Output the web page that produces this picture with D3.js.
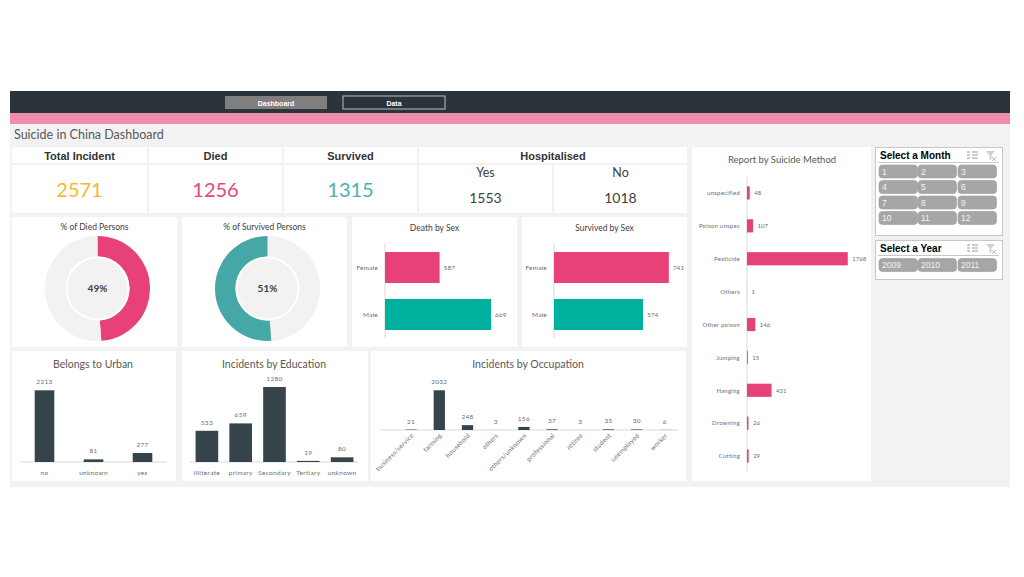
<!DOCTYPE html>
<html><head><meta charset="utf-8">
<script src="https://cdn.jsdelivr.net/npm/d3@7"></script>
<style>body{margin:0;background:#fff}svg{display:block}</style>
</head><body><svg id="c" width="1024" height="577"></svg>
<script>
// ---------- DATA ----------
const navButtons = ["Dashboard", "Data"];
const dashboardTitle = "Suicide in China Dashboard";
const kpiLabels = ["Total Incident", "Died", "Survived"];
const kpiValues = [2571, 1256, 1315];
const hospTitle = "Hospitalised";
const hospLabels = ["Yes", "No"];
const hospValues = [1553, 1018];
const outcomeLabels = ["Died", "Survived"];
const outcomeValues = [1256, 1315];
const sexCategories = ["Female", "Male"];
const deathBySex = [587, 669];
const survivedBySex = [741, 574];
const urbanCategories = ["no", "unknown", "yes"];
const urbanValues = [2213, 81, 277];
const eduCategories = ["illiterate", "primary", "Secondary", "Tertiary", "unknown"];
const eduValues = [533, 659, 1280, 19, 80];
const occCategories = ["business/service", "farming", "household", "others", "others/unknown", "professional", "retiree", "student", "unemployed", "worker"];
const occValues = [21, 2032, 248, 3, 156, 37, 3, 35, 30, 6];
const methodCategories = ["unspecified", "Poison unspec", "Pesticide", "Others", "Other poison", "Jumping", "Hanging", "Drowning", "Cutting"];
const methodValues = [48, 107, 1768, 1, 146, 15, 431, 26, 29];
const months = ["1","2","3","4","5","6","7","8","9","10","11","12"];
const years = ["2009", "2010", "2011"];

// ---------- STYLE ----------
const PINK = "#e8417a", TEAL = "#00b09f", TEAL2 = "#45a8a6", DARK = "#36454b";
const GREY_TXT = "#595959", LBL = "#6e6e6e", BG = "#f2f2f2";
const FONT = "Lato, 'Open Sans', sans-serif";
const BOLD = "'Liberation Sans', Arial, sans-serif";

const svg = d3.select("#c");
svg.append("rect").attr("x",0).attr("y",0).attr("width",1024).attr("height",577).attr("fill","#fff");

// background & header
svg.append("rect").attr("x",10).attr("y",124).attr("width",1000).attr("height",363).attr("fill",BG);
svg.append("rect").attr("x",10).attr("y",91).attr("width",1000).attr("height",22).attr("fill","#2b333b");
svg.append("rect").attr("x",10).attr("y",113).attr("width",1000).attr("height",11).attr("fill","#f08cae");

const navX = d3.scaleOrdinal().domain(navButtons).range([225, 343]);
navButtons.forEach((b,i)=>{
  svg.append("rect").attr("x",navX(b)).attr("y",96).attr("width",102).attr("height",13)
    .attr("fill", i===0 ? "#7f7f7f" : "#2b333b").attr("stroke", i===0 ? "none" : "#c0c0c0").attr("stroke-width",1);
  svg.append("text").attr("x",navX(b)+51).attr("y",105.5).attr("text-anchor","middle")
    .attr("font-family",BOLD).attr("font-weight","bold").attr("font-size",7).attr("fill","#fff").text(b);
});

svg.append("text").attr("x",14).attr("y",139).attr("font-family",FONT).attr("font-size",12.5)
  .attr("fill",GREY_TXT).text(dashboardTitle);

function card(x,y,w,h){ svg.append("rect").attr("x",x).attr("y",y).attr("width",w).attr("height",h).attr("fill","#fff"); }

// ---------- KPI ----------
const kpiX = [12, 149, 284];
const kpiW = [135, 133, 133];
const kpiColors = ["#f7b82a", "#e8467c", "#4ab2b0"];
kpiLabels.forEach((l,i)=>{
  card(kpiX[i],147,kpiW[i],16);
  card(kpiX[i],165,kpiW[i],48);
  svg.append("text").attr("x",kpiX[i]+kpiW[i]/2).attr("y",159.5).attr("text-anchor","middle")
    .attr("font-family",BOLD).attr("font-weight","bold").attr("font-size",11).attr("fill","#333").text(l);
  svg.append("text").attr("x",kpiX[i]+kpiW[i]/2).attr("y",197).attr("text-anchor","middle")
    .attr("font-family",FONT).attr("font-size",20).attr("fill",kpiColors[i]).text(kpiValues[i]);
});
card(419,147,268,16);
svg.append("text").attr("x",553).attr("y",159.5).attr("text-anchor","middle")
  .attr("font-family",BOLD).attr("font-weight","bold").attr("font-size",11).attr("fill","#333").text(hospTitle);
const hx = [419, 554], hw = [133, 133];
hospLabels.forEach((l,i)=>{
  card(hx[i],165,hw[i],48);
  svg.append("text").attr("x",hx[i]+hw[i]/2).attr("y",176.5).attr("text-anchor","middle")
    .attr("font-family",FONT).attr("font-size",12.5).attr("fill","#404040").text(l);
  svg.append("text").attr("x",hx[i]+hw[i]/2).attr("y",203).attr("text-anchor","middle")
    .attr("font-family",FONT).attr("font-size",14).attr("fill","#404040").text(hospValues[i]);
});

// ---------- Donuts ----------
const total = d3.sum(outcomeValues);
const pie = d3.pie().sort(null)(outcomeValues);
const arc = d3.arc().innerRadius(32).outerRadius(52.5);
function donut(x,w,cx,title,idx,color){
  card(x,217,w,130);
  svg.append("text").attr("x",x+w/2).attr("y",230).attr("text-anchor","middle")
    .attr("font-family",FONT).attr("font-size",8.5).attr("fill","#404040").text(title);
  const g = svg.append("g").attr("transform",`translate(${cx},288.5)`);
  g.append("circle").attr("r",52.5).attr("fill",BG);
  g.selectAll("path").data(pie).join("path").attr("d",arc)
    .attr("fill",(d,i)=> i===idx ? color : BG);
  g.append("circle").attr("r",31).attr("fill","none").attr("stroke","#fff").attr("stroke-width",2);
  g.append("text").attr("y",3.5).attr("text-anchor","middle").attr("font-family",FONT)
    .attr("font-weight","bold").attr("font-size",10).attr("fill","#404040")
    .text(Math.round(outcomeValues[idx]/total*100)+"%");
}
donut(12,165,97.5,"% of Died Persons",0,PINK);
donut(182,165,267.5,"% of Survived Persons",1,TEAL2);

// ---------- Sex bars ----------
function sexChart(x,w,title,values,domain,x0,x1){
  card(x,217,w,130);
  svg.append("text").attr("x",x+w/2).attr("y",231).attr("text-anchor","middle")
    .attr("font-family",FONT).attr("font-size",8.5).attr("fill","#404040").text(title);
  const xs = d3.scaleLinear().domain(domain).range([x0,x1]);
  const ys = d3.scaleBand().domain(sexCategories).range([244,338]).paddingInner(0.34).paddingOuter(0.17);
  svg.append("line").attr("x1",x0).attr("x2",x0).attr("y1",244).attr("y2",338).attr("stroke","#d9d9d9");
  sexCategories.forEach((c,i)=>{
    svg.append("rect").attr("x",x0).attr("y",ys(c)).attr("width",xs(values[i])-x0).attr("height",ys.bandwidth())
      .attr("fill", i===0 ? PINK : TEAL);
    svg.append("text").attr("x",xs(values[i])+4).attr("y",ys(c)+ys.bandwidth()/2+2.5)
      .attr("font-family",FONT).attr("font-size",6.5).attr("fill",LBL).text(values[i]);
    svg.append("text").attr("x",x0-7).attr("y",ys(c)+ys.bandwidth()/2+2.5).attr("text-anchor","end")
      .attr("font-family",FONT).attr("font-size",6.5).attr("fill",LBL).attr("letter-spacing",0.2).text(c);
  });
}
sexChart(352,165,"Death by Sex",deathBySex,[500,680],385,498);
sexChart(522,165,"Survived by Sex",survivedBySex,[0,800],554,678);

// ---------- Column charts ----------
function colChart(opt){
  card(opt.x,351,opt.w,130);
  svg.append("text").attr("x",opt.tx).attr("y",367.5).attr("text-anchor","middle")
    .attr("font-family",FONT).attr("font-size",10.5).attr("fill",GREY_TXT).text(opt.title);
  const xs = d3.scaleBand().domain(opt.cats).range(opt.range).paddingInner(opt.pi).paddingOuter(opt.po);
  const ys = d3.scaleLinear().domain([0,opt.max]).range([opt.base,opt.top]);
  svg.append("line").attr("x1",opt.lx0).attr("x2",opt.lx1).attr("y1",opt.base).attr("y2",opt.base).attr("stroke","#d9d9d9");
  opt.cats.forEach((c,i)=>{
    svg.append("rect").attr("x",xs(c)).attr("y",ys(opt.vals[i])).attr("width",xs.bandwidth())
      .attr("height",opt.base-ys(opt.vals[i])).attr("fill",DARK);
    svg.append("text").attr("x",xs(c)+xs.bandwidth()/2).attr("y",ys(opt.vals[i])-6).attr("text-anchor","middle")
      .attr("font-family",FONT).attr("font-size",6.5).attr("fill",LBL).attr("letter-spacing",0.3).text(opt.vals[i]);
    if(opt.rotate){
      svg.append("text").attr("transform",`translate(${xs(c)+xs.bandwidth()/2+3},${opt.base+6}) rotate(-45)`)
        .attr("text-anchor","end").attr("font-family",FONT).attr("font-size",6.5).attr("fill",LBL).attr("letter-spacing",0.2).text(c);
    } else {
      svg.append("text").attr("x",xs(c)+xs.bandwidth()/2).attr("y",opt.base+12.5).attr("text-anchor","middle")
        .attr("font-family",FONT).attr("font-size",6.5).attr("fill",LBL).attr("letter-spacing",0.3).text(c);
    }
  });
}
colChart({x:12,w:164,tx:93,title:"Belongs to Urban",cats:urbanCategories,vals:urbanValues,range:[20,167],pi:0.6,po:0.3,max:2500,base:462,top:381,lx0:20,lx1:167});
colChart({x:182,w:186,tx:274,title:"Incidents by Education",cats:eduCategories,vals:eduValues,range:[190,359],pi:0.33,po:0.165,max:1400,base:462,top:380,lx0:190,lx1:358});
colChart({x:371,w:315,tx:528,title:"Incidents by Occupation",cats:occCategories,vals:occValues,range:[397,679],pi:0.6,po:0.3,max:2200,base:430,top:387,lx0:380,lx1:678,rotate:true});

// ---------- Suicide method ----------
card(692,147,179,334);
svg.append("text").attr("x",782).attr("y",163).attr("text-anchor","middle")
  .attr("font-family",FONT).attr("font-size",9.5).attr("fill",GREY_TXT).text("Report by Suicide Method");
{
  const xs = d3.scaleLinear().domain([0,2000]).range([747,861]);
  const ys = d3.scaleBand().domain(methodCategories).range([176.5,472.5]).paddingInner(0.6).paddingOuter(0.3);
  svg.append("line").attr("x1",747).attr("x2",747).attr("y1",177).attr("y2",472).attr("stroke","#d9d9d9");
  methodCategories.forEach((c,i)=>{
    const cy = ys(c)+ys.bandwidth()/2;
    svg.append("rect").attr("x",747).attr("y",ys(c)).attr("width",xs(methodValues[i])-747).attr("height",ys.bandwidth()).attr("fill",PINK);
    svg.append("text").attr("x",xs(methodValues[i])+4.5).attr("y",cy+2.3)
      .attr("font-family",FONT).attr("font-size",6).attr("fill",LBL).text(methodValues[i]);
    svg.append("text").attr("x",740).attr("y",cy+2.3).attr("text-anchor","end")
      .attr("font-family",FONT).attr("font-size",6).attr("fill",LBL).attr("letter-spacing",0.25).text(c);
  });
}

// ---------- Slicers ----------
function slicer(y,h,title,items,rowsY){
  svg.append("rect").attr("x",875.5).attr("y",y+0.5).attr("width",127).attr("height",h).attr("fill","#fff")
    .attr("stroke","#c8c8c8").attr("stroke-width",1);
  svg.append("text").attr("x",880).attr("y",y+11.5).attr("font-family",BOLD).attr("font-weight","bold")
    .attr("font-size",10).attr("fill","#000").text(title);
  svg.append("line").attr("x1",878).attr("x2",999).attr("y1",y+15.5).attr("y2",y+15.5).attr("stroke","#c8c8c8");
  const ix = 967, iy = y+5;
  for(let k=0;k<3;k++){
    svg.append("line").attr("x1",ix).attr("x2",ix+3).attr("y1",iy+k*3).attr("y2",iy+k*3).attr("stroke","#9a9a9a");
    svg.append("line").attr("x1",ix+5).attr("x2",ix+11).attr("y1",iy+k*3).attr("y2",iy+k*3).attr("stroke","#9a9a9a");
  }
  svg.append("path").attr("d",`M${986},${iy-1} h9 l-3.5,4 v4 l-2,1 v-5 z`).attr("fill","#d0d0d0");
  svg.append("path").attr("d",`M${992},${iy+5} l4,4 M${996},${iy+5} l-4,4`).attr("stroke","#e0a0a0").attr("stroke-width",0.8);
  const colX = [879, 918, 958];
  items.forEach((m,i)=>{
    const r = Math.floor(i/3), c = i%3;
    svg.append("rect").attr("x",colX[c]).attr("y",rowsY[r]).attr("width",38.5).attr("height",13).attr("rx",3.5)
      .attr("fill","#a6a6a6").attr("stroke","#9a9a9a").attr("stroke-width",0.6);
    svg.append("text").attr("x",colX[c]+3).attr("y",rowsY[r]+9.5).attr("font-family",BOLD)
      .attr("font-size",8.5).attr("fill","#f4f4f4").text(m);
  });
}
slicer(147,88,"Select a Month",months,[165,180.5,196,211.5]);
slicer(240,39,"Select a Year",years,[258.5]);
</script></body></html>
